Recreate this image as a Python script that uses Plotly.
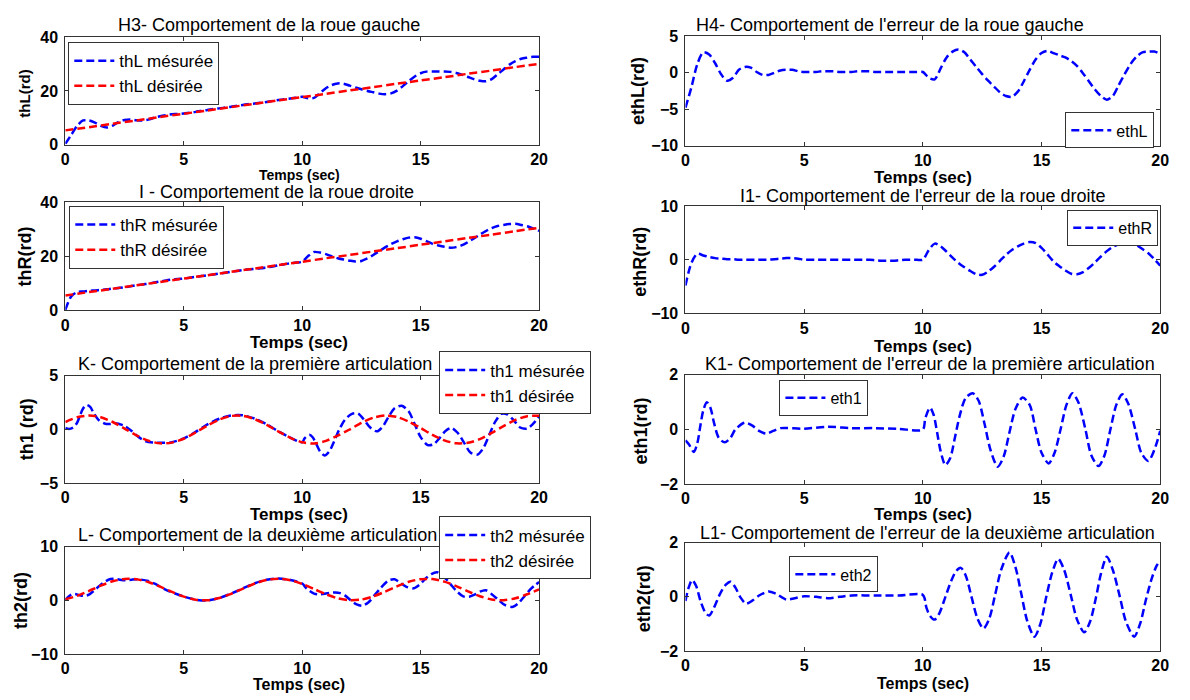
import numpy as np
import plotly.graph_objects as go

# ---------------- data ----------------
t_q = np.round(np.arange(0, 20.001, 0.25), 2)   # 0.25 s grid
t_h = np.round(np.arange(0, 20.001, 0.5), 2)    # 0.5 s grid
t_s = np.arange(0, 21)                          # 1 s grid

# left wheel
thL_des = [5.3, 6.5, 7.8, 9.0, 10.3, 11.5, 12.7, 14.0, 15.2, 16.5, 17.7, 18.9, 20.2, 21.4,
           22.7, 23.9, 25.1, 26.4, 27.6, 28.9, 30.1]
thL_mes = [0.3, 3.6, 7.0, 9.0, 9.0, 8.2, 7.0, 6.4, 7.1, 8.5,
           9.2, 9.4, 9.1, 9.0, 9.3, 10.0, 10.6, 11.0, 11.3, 11.4,
           11.6, 11.9, 12.2, 12.6, 12.9, 13.3, 13.5, 13.8, 14.1, 14.5,
           14.8, 15.1, 15.3, 15.6, 15.9, 16.3, 16.6, 16.9, 17.2, 17.5,
           17.8, 17.3, 17.4, 19.2, 21.0, 22.2, 22.8, 22.7, 22.0, 21.3,
           20.6, 20.0, 19.5, 19.0, 18.8, 19.1, 20.1, 21.8, 23.7, 25.4,
           26.6, 27.2, 27.2, 27.2, 27.2, 27.1, 26.7, 26.0, 25.2, 24.4,
           23.8, 23.6, 24.4, 26.2, 28.0, 29.8, 31.1, 32.0, 32.4, 32.7,
           32.7]
ethL = [-4.8, -2.0, 1.2, 2.8, 2.5, 1.3, -0.2, -1.1, -0.7, 0.4,
        0.8, 0.7, 0.1, -0.3, -0.3, 0.0, 0.3, 0.4, 0.4, 0.2,
        0.1, 0.1, 0.1, 0.2, 0.2, 0.2, 0.1, 0.1, 0.1, 0.2,
        0.2, 0.2, 0.1, 0.1, 0.1, 0.1, 0.1, 0.1, 0.1, 0.1,
        0.1, -0.7, -0.9, 0.6, 2.1, 2.9, 3.2, 2.8, 1.8, 0.8,
        -0.2, -1.1, -1.9, -2.7, -3.2, -3.3, -2.6, -1.2, 0.4, 1.8,
        2.7, 3.0, 2.7, 2.4, 2.1, 1.6, 0.9, -0.1, -1.2, -2.3,
        -3.2, -3.7, -3.2, -1.7, -0.2, 1.2, 2.2, 2.8, 2.9, 2.9,
        2.6]

# right wheel
thR_des = [5.5, 6.8, 8.0, 9.3, 10.5, 11.8, 13.0, 14.3, 15.5, 16.8, 18.0, 19.3, 20.5, 21.8,
           23.0, 24.3, 25.5, 26.8, 28.0, 29.3, 30.5]
thR_mes = [0.2, 5.2, 6.8, 7.0, 7.25, 7.4, 7.6, 7.8, 8.1, 8.3,
           8.6, 8.9, 9.3, 9.6, 9.9, 10.3, 10.7, 11.1, 11.4, 11.6,
           11.8, 12.1, 12.4, 12.7, 13.0, 13.3, 13.6, 13.9, 14.3, 14.6,
           14.9, 15.2, 15.4, 15.6, 15.9, 16.2, 16.7, 17.1, 17.4, 17.7,
           18.0, 20.1, 21.6, 21.4, 20.8, 20.0, 19.3, 18.8, 18.4, 18.1,
           18.3, 19.2, 20.5, 21.9, 23.3, 24.5, 25.5, 26.3, 26.9, 27.0,
           26.5, 25.6, 24.6, 24.0, 23.5, 23.2, 23.4, 24.1, 25.3, 26.6,
           28.0, 29.3, 30.4, 31.2, 31.6, 31.9, 32.0, 31.6, 31.1, 30.3,
           29.4]
ethR = [-4.8, -0.6, 1.1, 0.8, 0.5, 0.3, 0.2, 0.1, 0.1, 0.0,
        0.0, 0.0, 0.0, 0.0, 0.0, 0.1, 0.2, 0.3, 0.3, 0.2,
        0.0, 0.0, 0.0, 0.0, 0.0, 0.0, 0.0, 0.0, 0.0, 0.0,
        0.0, 0.0, -0.1, -0.2, -0.2, -0.2, -0.1, 0.0, 0.0, 0.0,
        0.0, 1.8, 3.0, 2.5, 1.5, 0.4, -0.6, -1.4, -2.1, -2.7,
        -2.8, -2.2, -1.3, -0.2, 0.9, 1.8, 2.5, 3.0, 3.3, 3.1,
        2.2, 1.0, -0.3, -1.2, -2.0, -2.6, -2.7, -2.3, -1.5, -0.5,
        0.6, 1.6, 2.4, 2.9, 3.0, 3.0, 2.7, 2.0, 1.2, 0.1,
        -1.1]

# first joint
th1_des = [0.70, 1.14, 1.30, 1.14, 0.70, 0.09, -0.54, -1.04, -1.29, -1.22,
           -0.86, -0.27, 0.37, 0.92, 1.26, 1.27, 0.96, 0.44, -0.19, -0.77,
           -1.19, -1.30, -1.06, -0.57, 0.00, 0.62, 1.10, 1.30, 1.17, 0.74,
           0.14, -0.50, -1.01, -1.28, -1.24, -0.89, -0.32, 0.32, 0.89, 1.24,
           1.28]
t_th1 = [0, 0.15, 0.35, 0.5, 0.62, 0.75, 0.9, 1.05, 1.2, 1.4,
         1.65, 1.9, 2.1, 2.5, 2.8, 3.1, 3.4, 3.7, 4.0, 4.5,
         5.0, 5.5, 6.0, 6.5, 7.0, 7.5, 8.0, 8.5, 9.0, 9.5,
         10.0, 10.1, 10.3, 10.45, 10.6, 10.75, 10.95, 11.15, 11.35, 11.55,
         11.8, 12.1, 12.35, 12.6, 12.85, 13.15, 13.4, 13.65, 13.9, 14.2,
         14.5, 14.75, 15.0, 15.3, 15.55, 15.8, 16.05, 16.3, 16.55, 16.85,
         17.1, 17.4, 17.65, 17.9, 18.15, 18.4, 18.65, 18.95, 19.2, 19.5,
         19.75, 20.0]
th1_mes = [0.15, 0.05, 0.21, 0.64, 1.31, 1.96, 2.29, 2.10, 1.52, 0.90,
           0.56, 0.51, 0.59, 0.34, -0.14, -0.71, -1.11, -1.22, -1.24, -1.18,
           -0.83, -0.22, 0.47, 1.00, 1.31, 1.32, 1.01, 0.48, -0.17, -0.76,
           -1.19, -0.83, -0.49, -0.75, -1.38, -2.03, -2.43, -2.02, -1.08, -0.06,
           0.90, 1.46, 1.50, 0.94, 0.23, -0.17, 0.28, 1.20, 1.98, 2.22,
           1.67, 0.49, -0.71, -1.45, -1.37, -0.80, -0.13, 0.14, -0.28, -1.29,
           -2.15, -2.34, -1.71, -0.48, 0.73, 1.45, 1.42, 0.81, 0.19, 0.09,
           0.54, 1.23]
t_eth1 = [0, 0.15, 0.35, 0.5, 0.62, 0.75, 0.9, 1.05, 1.2, 1.4,
          1.65, 1.9, 2.1, 2.5, 2.8, 3.1, 3.4, 3.7, 4.0, 5.0,
          6.0, 7.0, 8.0, 9.0, 10.0, 10.1, 10.3, 10.45, 10.6, 10.75,
          10.95, 11.15, 11.35, 11.55, 11.8, 12.1, 12.35, 12.6, 12.85, 13.15,
          13.4, 13.65, 13.9, 14.2, 14.5, 14.75, 15.0, 15.3, 15.55, 15.8,
          16.05, 16.3, 16.55, 16.85, 17.1, 17.4, 17.65, 17.9, 18.15, 18.4,
          18.65, 18.95, 19.2, 19.5, 19.75, 20.0]
eth1 = [-0.4, -0.55, -0.82, -0.5, 0.1, 0.7, 1.0, 0.8, 0.25, -0.3,
        -0.47, -0.3, 0.0, 0.25, 0.15, -0.05, -0.15, -0.05, 0.05, 0.03,
        0.1, 0.05, 0.05, 0.02, 0.0, 0.4, 0.8, 0.55, -0.1, -0.8,
        -1.3, -1.05, -0.3, 0.5, 1.15, 1.33, 1.05, 0.2, -0.75, -1.36,
        -1.0, -0.1, 0.75, 1.17, 0.9, 0.0, -0.85, -1.24, -0.85, 0.0,
        0.9, 1.33, 1.0, 0.0, -0.95, -1.34, -0.95, 0.0, 0.9, 1.29,
        0.95, 0.0, -0.85, -1.15, -0.75, -0.05]

# second joint
th2_des = [0.19, 0.82, 1.74, 2.72, 3.53, 3.96, 3.91, 3.39, 2.53, 1.55,
           0.67, 0.11, 0.02, 0.42, 1.20, 2.17, 3.12, 3.79, 4.00, 3.74,
           3.04, 2.09, 1.12, 0.36, 0.02, 0.13, 0.72, 1.61, 2.59, 3.44,
           3.93, 3.94, 3.48, 2.64, 1.65, 0.75, 0.14, 0.00, 0.37, 1.12,
           2.04]
t_th2 = [0, 0.12, 0.28, 0.45, 0.65, 0.85, 1.0, 1.2, 1.45, 1.7,
         1.9, 2.1, 2.3, 2.55, 2.8, 3.1, 3.5, 3.8, 4.25, 4.6,
         5.0, 5.5, 6.0, 6.5, 7.0, 7.5, 8.0, 8.5, 9.0, 9.5,
         10.0, 10.15, 10.3, 10.5, 10.7, 10.95, 11.2, 11.4, 11.6, 11.8,
         12.05, 12.3, 12.55, 12.8, 13.05, 13.3, 13.65, 13.9, 14.15, 14.4,
         14.7, 14.95, 15.2, 15.45, 15.7, 15.95, 16.25, 16.5, 16.8, 17.05,
         17.3, 17.5, 17.75, 18.0, 18.3, 18.55, 18.9, 19.15, 19.4, 19.65,
         19.85, 20.0]
th2_mes = [0.04, 0.61, 1.12, 1.14, 0.88, 0.85, 1.05, 1.74, 2.73, 3.53,
           3.95, 4.00, 3.84, 3.73, 3.84, 3.89, 3.59, 3.03, 1.94, 1.31,
           0.69, 0.11, -0.03, 0.42, 1.25, 2.22, 3.17, 3.84, 4.05, 3.79,
           3.11, 2.37, 1.78, 1.25, 1.11, 1.21, 1.41, 1.46, 1.33, 0.90,
           0.00, -0.77, -1.00, -0.37, 0.90, 2.23, 3.70, 3.90, 3.20, 2.50,
           2.22, 2.90, 4.00, 4.87, 5.20, 4.53, 3.06, 1.79, 0.71, 0.66,
           1.08, 1.60, 1.86, 1.14, 0.01, -0.88, -1.22, -0.45, 0.85, 2.11,
           2.89, 3.38]
t_eth2 = [0, 0.12, 0.28, 0.45, 0.65, 0.85, 1.0, 1.2, 1.45, 1.7,
          1.9, 2.1, 2.3, 2.55, 2.8, 3.1, 3.5, 3.8, 4.25, 4.6,
          5.0, 5.5, 6.0, 6.5, 7.0, 8.0, 9.0, 10.0, 10.15, 10.3,
          10.5, 10.7, 10.95, 11.2, 11.4, 11.6, 11.8, 12.05, 12.3, 12.55,
          12.8, 13.05, 13.3, 13.65, 13.9, 14.15, 14.4, 14.7, 14.95, 15.2,
          15.45, 15.7, 15.95, 16.25, 16.5, 16.8, 17.05, 17.3, 17.5, 17.75,
          18.0, 18.3, 18.55, 18.9, 19.15, 19.4, 19.65, 19.85, 20.0]
eth2 = [-0.15, 0.3, 0.62, 0.4, -0.2, -0.6, -0.69, -0.4, 0.1, 0.45,
        0.56, 0.35, 0.0, -0.25, -0.15, 0.05, 0.2, 0.12, -0.1, -0.05,
        0.02, 0.0, -0.05, 0.0, 0.05, 0.05, 0.05, 0.07, -0.4, -0.7,
        -0.84, -0.6, 0.0, 0.6, 0.95, 1.07, 0.8, 0.0, -0.8, -1.17,
        -0.8, 0.1, 1.0, 1.64, 1.1, 0.1, -0.9, -1.47, -1.0, 0.0,
        0.9, 1.4, 1.0, 0.0, -0.85, -1.31, -0.9, 0.0, 0.85, 1.48,
        1.0, 0.0, -0.9, -1.47, -1.0, -0.1, 0.7, 1.15, 1.34]

# ---------------- layout helpers ----------------
W, H = 1190, 700
FONT = "Liberation Sans, Arial, sans-serif"
BLUE, RED = "#0000ff", "#ff0000"
DASH = "8px,4px"


def fx(x):
    return x / W


def fy(y):
    return 1 - y / H


panels = [
    # left column
    dict(box=(62, 541, 30, 140), yr=[0, 40], yt=[0, 20, 40],
         title="H3- Comportement de la roue gauche", tpos=(268, 17),
         ylab="thL(rd)", ylpos=(21, 88), ylsize=15,
         xlpos=(299, 171), xlsize=14,
         series=[(t_q, thL_mes, BLUE, "thL mésurée"), (t_s, thL_des, RED, "thL désirée")],
         leg=dict(x=65, y=35, anchor="left", size=17)),
    dict(box=(62, 541, 199, 310), yr=[0, 40], yt=[0, 20, 40],
         title="I - Comportement de la roue droite", tpos=(276, 189),
         ylab="thR(rd)", ylpos=(21, 255), ylsize=18,
         xlpos=(298, 343), xlsize=17,
         series=[(t_q, thR_mes, BLUE, "thR mésurée"), (t_s, thR_des, RED, "thR désirée")],
         leg=dict(x=66, y=203, anchor="left", size=17)),
    dict(box=(62, 541, 377, 487), yr=[-5, 5], yt=[-5, 0, 5],
         title="K- Comportement de la première articulation", tpos=(254, 365),
         ylab="th1 (rd)", ylpos=(23, 432), ylsize=18,
         xlpos=(298, 519), xlsize=17,
         series=[(t_th1, th1_mes, BLUE, "th1 mésurée"), (t_h, th1_des, RED, "th1 désirée")],
         leg=dict(x=440, y=352, anchor="left", size=17)),
    dict(box=(62, 541, 552, 662), yr=[-10, 10], yt=[-10, 0, 10],
         title="L- Comportement de la deuxième articulation", tpos=(256, 540),
         ylab="th2(rd)", ylpos=(17, 607), ylsize=18,
         xlpos=(298, 693), xlsize=16,
         series=[(t_th2, th2_mes, BLUE, "th2 mésurée"), (t_h, th2_des, RED, "th2 désirée")],
         leg=dict(x=440, y=521, anchor="left", size=17)),
    # right column
    dict(box=(689, 1169, 29, 141), yr=[-10, 5], yt=[-10, -5, 0, 5],
         title="H4- Comportement de l'erreur de la roue gauche", tpos=(896, 17),
         ylab="ethL(rd)", ylpos=(641, 85), ylsize=18,
         xlpos=(929, 174), xlsize=17,
         series=[(t_q, ethL, BLUE, "ethL")],
         leg=dict(x=1163, y=107, anchor="right", size=16)),
    dict(box=(689, 1169, 203, 313), yr=[-10, 10], yt=[-10, 0, 10],
         title="I1- Comportement de l'erreur de la roue droite", tpos=(929, 193),
         ylab="ethR(rd)", ylpos=(643, 260), ylsize=18,
         xlpos=(929, 347), xlsize=17,
         series=[(t_q, ethR, BLUE, "ethR")],
         leg=dict(x=1167, y=207, anchor="right", size=16)),
    dict(box=(689, 1169, 376, 488), yr=[-2, 2], yt=[-2, 0, 2],
         title="K1- Comportement de l'erreur de la première articulation", tpos=(936, 365),
         ylab="eth1(rd)", ylpos=(645, 433), ylsize=18,
         xlpos=(929, 519), xlsize=17,
         series=[(t_eth1, eth1, BLUE, "eth1")],
         leg=dict(x=784, y=381, anchor="left", size=16)),
    dict(box=(689, 1169, 548, 659), yr=[-2, 2], yt=[-2, 0, 2],
         title="L1- Comportement de l'erreur de la deuxième articulation", tpos=(934, 538),
         ylab="eth2(rd)", ylpos=(647, 605), ylsize=18,
         xlpos=(929, 692), xlsize=16,
         series=[(t_eth2, eth2, BLUE, "eth2")],
         leg=dict(x=794, y=562, anchor="left", size=16)),
]

fig = go.Figure()
layout = dict(width=W, height=H, margin=dict(l=0, r=0, t=0, b=0),
              paper_bgcolor="white", plot_bgcolor="white",
              font=dict(family=FONT, color="black"), annotations=[])

for i, p in enumerate(panels, start=1):
    sfx = "" if i == 1 else str(i)
    x0, x1, y0, y1 = p["box"]
    axis_common = dict(showline=True, linecolor="#333333", linewidth=1, mirror="ticks",
                       ticks="inside", ticklen=4, tickwidth=1, tickcolor="#333333",
                       showgrid=False, zeroline=False,
                       tickfont=dict(family=FONT, size=16, weight="bold", color="black"))
    layout["xaxis" + sfx] = dict(axis_common, domain=[fx(x0), fx(x1)], anchor="y" + sfx,
                                 range=[0, 20], tickvals=[0, 5, 10, 15, 20],
                                 ticklabelstandoff=0)
    layout["yaxis" + sfx] = dict(axis_common, domain=[fy(y1), fy(y0)], anchor="x" + sfx,
                                 range=p["yr"], tickvals=p["yt"], ticklabelstandoff=3)
    lg = p["leg"]
    layout["legend" + sfx] = dict(
        x=fx(lg["x"]), y=fy(lg["y"]), xanchor=lg["anchor"], yanchor="top",
        xref="paper", yref="paper",
        bgcolor="white", bordercolor="#333333", borderwidth=1,
        font=dict(family=FONT, size=lg["size"], color="black"),
        tracegroupgap=0, itemwidth=40)
    for tx, ty, col, name in p["series"]:
        fig.add_trace(go.Scatter(
            x=tx, y=ty, name=name, mode="lines",
            line=dict(color=col, width=2.5, dash=DASH, shape="spline", smoothing=0.8),
            xaxis="x" + sfx, yaxis="y" + sfx, legend="legend" + sfx,
            showlegend=True))
    # panel title
    layout["annotations"].append(dict(
        text=p["title"], x=fx(p["tpos"][0]), y=fy(p["tpos"][1]), xref="paper", yref="paper",
        xanchor="center", yanchor="middle", showarrow=False,
        font=dict(family=FONT, size=18, color="black")))
    # y label
    layout["annotations"].append(dict(
        text=p["ylab"], x=fx(p["ylpos"][0]), y=fy(p["ylpos"][1]), xref="paper", yref="paper",
        xanchor="center", yanchor="middle", showarrow=False, textangle=-90,
        font=dict(family=FONT, size=p["ylsize"], weight="bold", color="black")))
    # x label
    layout["annotations"].append(dict(
        text="Temps (sec)", x=fx(p["xlpos"][0]), y=fy(p["xlpos"][1]), xref="paper", yref="paper",
        xanchor="center", yanchor="middle", showarrow=False,
        font=dict(family=FONT, size=p["xlsize"], weight="bold", color="black")))

fig.update_layout(**layout)
fig.write_html("out.html")
